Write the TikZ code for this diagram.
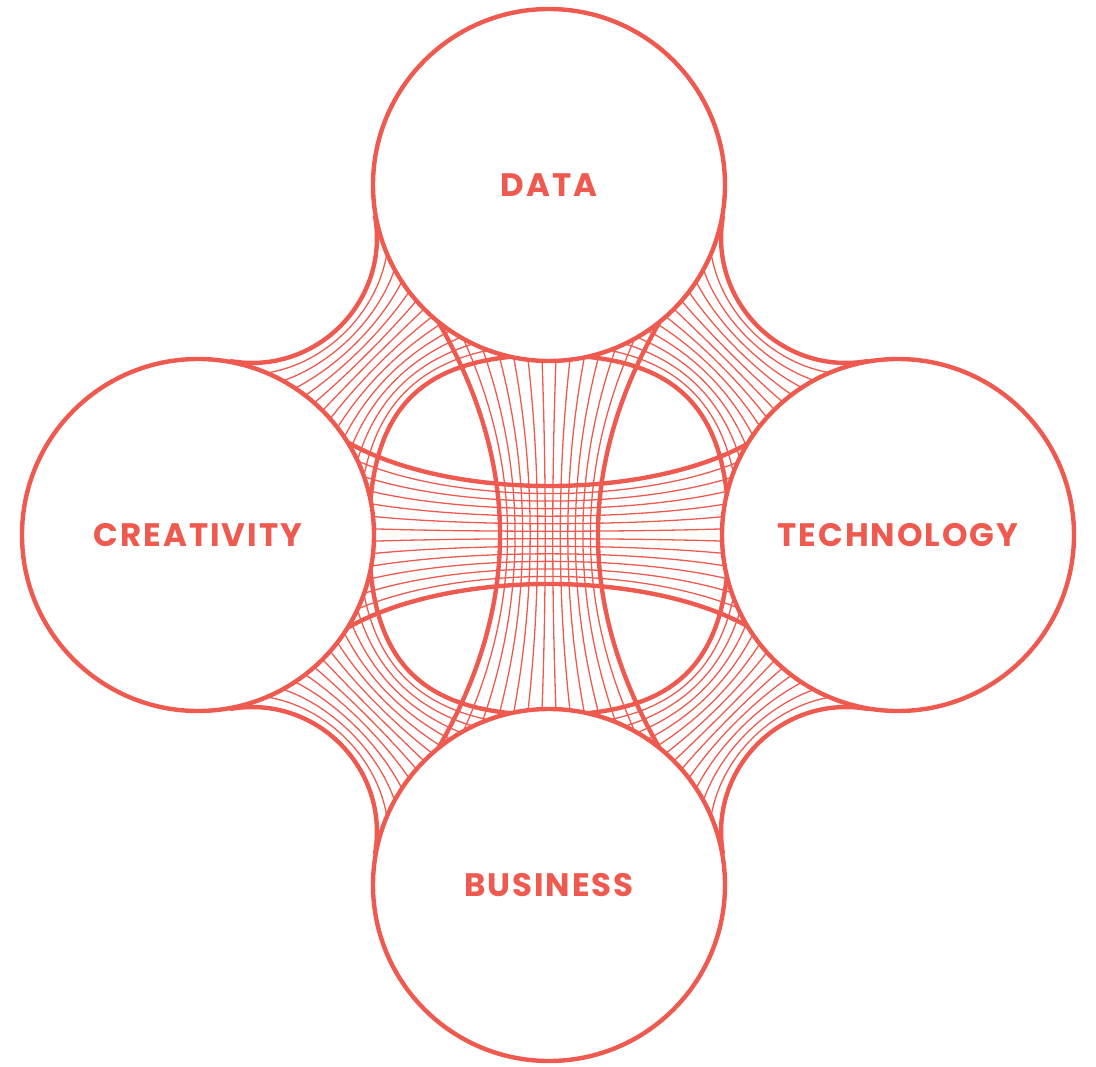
\documentclass[tikz,border=0pt]{standalone}
\usepackage{fontspec}
\setmainfont{Poppins}[LetterSpace=6]
\definecolor{coral}{RGB}{238,90,79}
\tikzset{
  bubble/.style={circle, draw=coral, line width=4.4pt, fill=white, minimum size=352pt,
    text=coral, font=\bfseries\fontsize{32.5}{32.5}\selectfont},
  strand/.style={draw=coral, line width=1.3pt},
  rim/.style={draw=coral, line width=4.4pt},
}

\begin{document}
\begin{tikzpicture}[x=1pt,y=-1pt]
  \useasboundingbox (0,0) rectangle (1096,1067);
  \coordinate (hub) at (549,535);

  % corner fans, from the small arc in to the middle ring
  \foreach \sx/\sy in {-1/-1, 1/-1, -1/1, 1/1} {
    \begin{scope}[shift={(hub)}, xscale=\sx, yscale=\sy]
      \foreach \k in {0,...,12} {
        \pgfmathsetmacro\t{\k/13}
        \pgfmathsetmacro\ax{174*(1-\t)}
        \pgfmathsetmacro\ay{319-139*\t}
        \pgfmathsetmacro\px{158.9-30.9*\t}
        \pgfmathsetmacro\py{233.5-53.5*\t}
        \pgfmathsetmacro\w{(\k==0) ? 4.4 : 1.3}
        \draw[strand, line width=\w pt] (\ax,\ay) .. controls (\px,\py) and (\py,\px) .. (\ay,\ax);
      }
    \end{scope}
  }

  % strands across the middle
  \foreach \i in {0,...,13} {
    \pgfmathsetmacro\s{-1+2*\i/13}
    \pgfmathsetmacro\e{\s*133.8}
    \pgfmathsetmacro\q{\s*20.7}
    \pgfmathsetmacro\w{(\i==0 || \i==13) ? 4.4 : 1.3}
    \draw[strand, line width=\w pt] ({549+\e},285) .. controls ({549+\q},452) and ({549+\q},618) .. ({549+\e},785);
    \draw[strand, line width=\w pt] (299,{535+\e}) .. controls (382,{535+\q}) and (716,{535+\q}) .. (799,{535+\e});
  }

  % middle ring
  \draw[rim, shift={(hub)}] (180,0) .. controls (180,128) and (128,180) .. (0,180)
    .. controls (-128,180) and (-180,128) .. (-180,0)
    .. controls (-180,-128) and (-128,-180) .. (0,-180)
    .. controls (128,-180) and (180,-128) .. (180,0) -- cycle;

  \node[bubble] (data) at (549,185) {DATA};
  \node[bubble] (creativity) at (198,535) {CREATIVITY};
  \node[bubble] (technology) at (898,535) {TECHNOLOGY};
  \node[bubble] (business) at (549,885) {BUSINESS};
\end{tikzpicture}
\end{document}
